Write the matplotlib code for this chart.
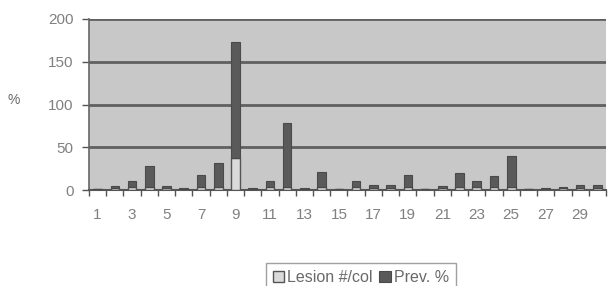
import matplotlib
matplotlib.use("Agg")
import matplotlib.pyplot as plt
import numpy as np

plt.rcParams['font.family'] = ['Liberation Sans', 'DejaVu Sans']

categories = list(range(1, 31))
lesion = [1, 2, 4, 3, 2, 1, 3, 3, 38, 1, 3, 4, 1, 3, 1, 3, 2, 2, 3, 1, 2, 3, 3, 3, 4, 1, 1, 2, 2, 2]
prev   = [0, 3, 7, 25, 3, 1, 14, 29, 135, 1, 8, 74, 1, 18, 0, 7, 4, 4, 14, 0, 3, 17, 8, 13, 36, 0, 1, 2, 4, 4]
yticks = [0, 50, 100, 150, 200]
xlabels = [str(c) if c % 2 == 1 else "" for c in categories]

fig = plt.figure(figsize=(6.09, 2.86), dpi=100)
ax = fig.add_axes([89/609, 1-190/286, (606-89)/609, (190-19)/286])
ax.set_facecolor('#c8c8c8')

x = np.arange(len(categories))
w = 0.5
ax.bar(x, lesion, width=w, color='#dadada', edgecolor='#555555', linewidth=1.0,
       label='Lesion #/col', zorder=3)
ax.bar(x, prev, width=w, bottom=lesion, color='#5a5a5a', edgecolor='#4a4a4a',
       linewidth=0.8, label='Prev. %', zorder=3)

ax.set_ylim(0, 200)
ax.set_xlim(-0.5, len(categories) - 0.5)
ax.set_yticks(yticks)
ax.set_yticklabels([str(v) for v in yticks], color='#808080', fontsize=11)
ax.yaxis.grid(True, color='#606060', linewidth=2.0, zorder=1)
ax.set_axisbelow(True)

ax.set_xticks(x)
ax.set_xticklabels(xlabels, color='#808080', fontsize=11)
ax.tick_params(axis='x', length=0, pad=13)
ax.set_xticks(np.arange(-0.5, len(categories) + 0.5, 1), minor=True)
ax.tick_params(axis='x', which='minor', length=4, color='#555555', width=1)
ax.tick_params(axis='y', length=5, color='#555555', width=1, pad=6)

for s in ['top', 'right']:
    ax.spines[s].set_visible(False)
ax.spines['left'].set_color('#666666')
ax.spines['left'].set_linewidth(1.2)
ax.spines['bottom'].set_color('#555555')
ax.spines['bottom'].set_linewidth(1.5)

fig.text(14/609, 1-100/286, '%', color='#6a6a6a', fontsize=10, ha='center', va='center')

leg = fig.legend(loc='upper center', bbox_to_anchor=(361/609, 1-255/286), ncol=2,
                 frameon=True, fancybox=False, edgecolor='#888888',
                 handlelength=0.7, handleheight=0.7, handletextpad=0.2,
                 columnspacing=0.4, fontsize=11.5, borderpad=0.45)
for t in leg.get_texts():
    t.set_color('#6a6a6a')

fig.savefig('out.png', dpi=100)
